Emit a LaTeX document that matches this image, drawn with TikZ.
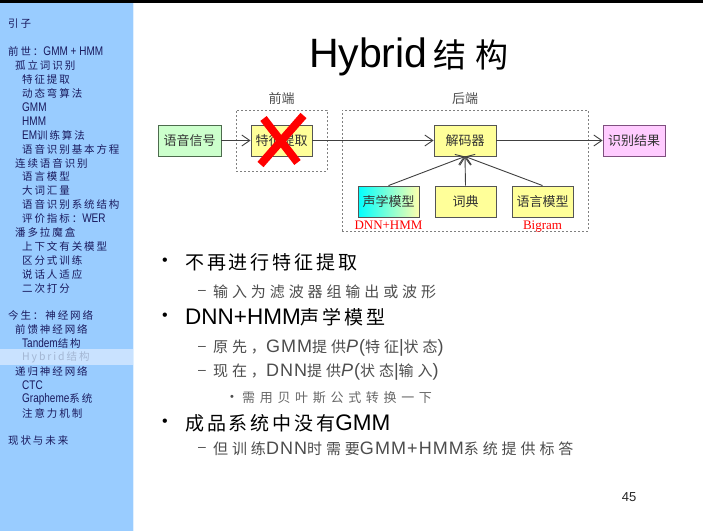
\documentclass[tikz,border=0pt]{standalone}
\usepackage{fontspec}
\setmainfont{Liberation Sans}
\newfontfamily\serifrm{Liberation Serif}
\newfontfamily\lattwo[LetterSpace=6]{Liberation Sans}
\newfontfamily\sidelat[FakeStretch=0.8]{Liberation Sans}
\newfontfamily\cjk{Noto Sans CJK SC}
\newfontfamily\cjkone[LetterSpace=15]{Noto Sans CJK SC}
\newfontfamily\cjktwo[LetterSpace=26]{Noto Sans CJK SC}
\newfontfamily\cjkthree[LetterSpace=36]{Noto Sans CJK SC}
\newfontfamily\cjkside[LetterSpace=18]{Noto Sans CJK SC}
\newfontfamily\cjktitle[LetterSpace=30]{Noto Sans CJK SC}
\usetikzlibrary{positioning, calc, arrows.meta}

\definecolor{sidebg}{HTML}{99CCFF}
\definecolor{sidetext}{HTML}{1A1A5E}
\definecolor{sidehl}{HTML}{C9E2FF}
\definecolor{sidedim}{HTML}{A3B6D3}
\definecolor{boxline}{HTML}{555555}
\definecolor{greenfill}{HTML}{CCFFCC}
\definecolor{greenline}{HTML}{4D6B4D}
\definecolor{yellowfill}{HTML}{FFFF99}
\definecolor{pinkfill}{HTML}{FFCCFF}
\definecolor{pinkline}{HTML}{7F4F7F}
\definecolor{boxtext}{HTML}{333333}
\definecolor{subgray}{HTML}{4D4D4D}
\definecolor{linegray}{HTML}{404040}

\newcommand\zhone[1]{{\cjkone\fontsize{19}{22}\selectfont #1}}
\newcommand\zhtwo[1]{{\cjktwo\fontsize{15}{17}\selectfont #1}}
\newcommand\zhthree[1]{{\cjkthree\fontsize{13}{15}\selectfont #1}}
\newcommand\sidelatin[1]{{\sidelat\fontsize{12.5}{12}\selectfont #1}}

\tikzset{
  sideitem/.style={anchor=west, inner sep=0pt, text=sidetext, font=\cjkside\fontsize{10.5}{12}\selectfont},
  box/.style={draw=boxline, line width=0.9pt, minimum width=61pt, minimum height=31pt,
    inner sep=0pt, text=boxtext, font=\cjk\fontsize{13}{13}\selectfont},
  yellowbox/.style={box, fill=yellowfill},
  frame/.style={draw=gray, line width=0.8pt, dash pattern=on 2pt off 2pt, inner sep=0pt},
  framelabel/.style={text=subgray, font=\cjk\fontsize{13}{13}\selectfont, inner sep=0pt},
  redlabel/.style={text=red, font=\serifrm\fontsize{13}{13}\selectfont, inner sep=0pt},
  conn/.style={draw=linegray, line width=0.9pt, -{Straight Barb[length=8pt,width=11pt]}},
  lone/.style={anchor=west, inner sep=0pt, text=black, font=\fontsize{22.5}{26}\selectfont},
  ltwo/.style={anchor=west, inner sep=0pt, text=subgray, font=\lattwo\fontsize{18}{18}\selectfont},
  lthree/.style={anchor=west, inner sep=0pt, text=subgray!85, font=\fontsize{13}{15}\selectfont},
}

\begin{document}
\begin{tikzpicture}[x=1pt, y=-1pt]
    \useasboundingbox (0,0) rectangle (703,531);
    \fill[white] (0,0) rectangle (703,531);

    % Top strip and side bar
    \fill[black] (0,0) rectangle (703,3);
    \fill[sidebg] (0,3) rectangle (133,531);
    \draw[white!70!sidebg, line width=1pt] (133.5,3) -- (133.5,531);

    % Side bar outline
    \foreach \idx/\lvl/\txt in {0/0/引子, 2/0/{前世：\sidelatin{GMM + HMM}}, 3/1/孤立词识别, 4/2/特征提取,
        5/2/动态弯算法, 6/2/\sidelatin{GMM}, 7/2/\sidelatin{HMM}, 8/2/{\sidelatin{EM}训练算法},
        9/2/语音识别基本方程, 10/1/连续语音识别, 11/2/语言模型, 12/2/大词汇量,
        13/2/语音识别系统结构, 14/2/{评价指标：\sidelatin{WER}}, 15/1/潘多拉魔盒,
        16/2/上下文有关模型, 17/2/区分式训练, 18/2/说话人适应, 19/2/二次打分,
        21/0/今生：神经网络, 22/1/前馈神经网络, 23/2/{\sidelatin{Tandem}结构},
        25/1/递归神经网络, 26/2/\sidelatin{CTC}, 27/2/{\sidelatin{Grapheme}系统},
        28/2/注意力机制, 30/0/现状与未来} {
        \node[sideitem] (side\idx) at ({8+7*\lvl}, {24+13.9*\idx}) {\txt};
    }
    % Current item
    \fill[sidehl] (0,349) rectangle (133,365);
    \node[sideitem, text=sidedim] (side24) at (22, {24+13.9*24}) {Hybrid结构};

    % Title
    \node[inner sep=0pt] (title) at (409,57)
        {{\fontsize{41}{41}\selectfont Hybrid}{\cjktitle\fontsize{33}{33}\selectfont\,结构}};

    % Diagram blocks
    \node[frame, minimum width=91pt, minimum height=61pt] (front) at (281.5,140.5) {};
    \node[frame, minimum width=246pt, minimum height=121pt] (back) at (465,170.5) {};
    \node[framelabel, above=5pt of front] (frontlbl) {前端};
    \node[framelabel, above=5pt of back] (backlbl) {后端};

    \node[box, fill=greenfill, draw=greenline, minimum width=63pt] (sig) at (189.5,140.5) {语音信号};
    \node[yellowbox] (feat) at (281.5,140.5) {特征提取};
    \node[yellowbox, minimum width=62pt] (dec) at (465,140.5) {解码器};
    \node[box, fill=pinkfill, draw=pinkline, minimum width=62pt] (res) at (634,140.5) {识别结果};
    \node[box, left color=cyan, right color=yellowfill!80] (am) at (388.5,201.5) {声学模型};
    \node[yellowbox] (lex) at (465.5,201.5) {词典};
    \node[yellowbox] (lm) at (542.5,201.5) {语言模型};

    \node[redlabel, below=3pt of am] (amlbl) {DNN+HMM};
    \node[redlabel, below=3pt of lm] (lmlbl) {Bigram};

    % Connectors
    \draw[conn] (sig) -- (feat);
    \draw[conn] (feat) -- (dec);
    \draw[conn] (dec) -- (res);
    \foreach \src in {am, lex, lm} {
        \draw[conn] (\src.north) -- (dec.south);
    }

    % Feature extraction is crossed out
    \draw[red, line width=8pt] ($(feat.center)+(-18,-22)$) -- ($(feat.center)+(16,22)$);
    \draw[red, line width=8pt] ($(feat.center)+(22,-25)$) -- ($(feat.center)+(-21,24)$);

    % Bullet list
    \node[font=\fontsize{16}{16}\selectfont, inner sep=0pt] (b1) at (165,262) {•};
    \node[font=\fontsize{16}{16}\selectfont, inner sep=0pt] (b2) at (165,317) {•};
    \node[font=\fontsize{16}{16}\selectfont, inner sep=0pt] (b3) at (165,423) {•};
    \foreach \n/\y in {1/292, 2/348, 3/372, 4/449} {
        \node[text=subgray, font=\fontsize{14}{14}\selectfont, inner sep=0pt] (d\n) at (202,\y) {–};
    }
    \node[text=subgray, font=\fontsize{11}{11}\selectfont, inner sep=0pt] (b4) at (232,398) {•};

    \node[lone] (t1) at (185,262) {\zhone{不再进行特征提取}};
    \node[ltwo] (t2) at (213,292) {\zhtwo{输入为滤波器组输出或波形}};
    \node[lone] (t3) at (185,317) {DNN+HMM\zhone{声学模型}};
    \node[ltwo] (t4) at (213,348) {\zhtwo{原先，}GMM\zhtwo{提供}\textit{P}(\zhtwo{特征}|\zhtwo{状态})};
    \node[ltwo] (t5) at (213,372) {\zhtwo{现在，}DNN\zhtwo{提供}\textit{P}(\zhtwo{状态}|\zhtwo{输入})};
    \node[lthree] (t6) at (242,398) {\zhthree{需用贝叶斯公式转换一下}};
    \node[lone] (t7) at (185,423) {\zhone{成品系统中没有}GMM};
    \node[ltwo] (t8) at (213,449) {\zhtwo{但训练}DNN\zhtwo{时需要}GMM+HMM\zhtwo{系统提供标答}};

    % Page number
    \node[font=\fontsize{13}{13}\selectfont, text=black!85, inner sep=0pt] (page) at (629,497) {45};
\end{tikzpicture}
\end{document}
